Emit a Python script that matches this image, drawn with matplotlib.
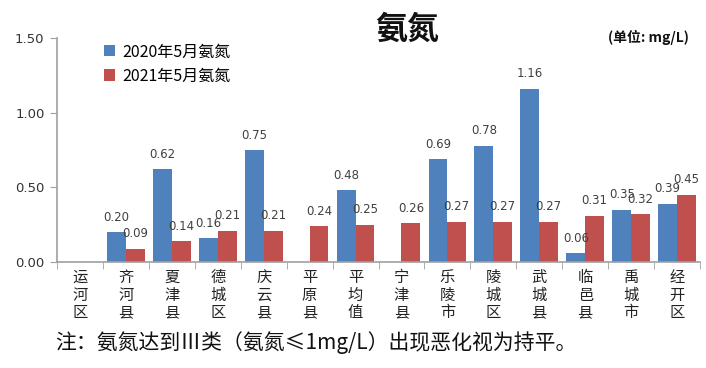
import matplotlib
matplotlib.use("Agg")
import matplotlib.pyplot as plt
import numpy as np

plt.rcParams['font.family'] = ['Noto Sans CJK SC', 'DejaVu Sans']

# data
districts = ['运河区', '齐河县', '夏津县', '德城区', '庆云县', '平原县', '平均值',
             '宁津县', '乐陵市', '陵城区', '武城县', '临邑县', '禹城市', '经开区']
nh3_2020 = [np.nan, 0.20, 0.62, 0.16, 0.75, np.nan, 0.48,
            np.nan, 0.69, 0.78, 1.16, 0.06, 0.35, 0.39]
nh3_2021 = [np.nan, 0.09, 0.14, 0.21, 0.21, 0.24, 0.25,
            0.26, 0.27, 0.27, 0.27, 0.31, 0.32, 0.45]
series_names = ['2020年5月氨氮', '2021年5月氨氮']
yticks = [0.0, 0.5, 1.0, 1.5]

blue = '#4F81BD'
red = '#C0504D'
label_col = '#404040'
axis_col = '#A0A0A0'

fig = plt.figure(figsize=(7.06, 3.68), dpi=100)
ax = fig.add_axes([57 / 706, (368 - 262) / 368, (700 - 57) / 706, (262 - 38) / 368])

x = np.arange(len(districts))
w = 0.41
ax.bar(x - w / 2, nh3_2020, w, color=blue, label=series_names[0])
ax.bar(x + w / 2, nh3_2021, w, color=red, label=series_names[1])

for xs, vals in ((x - w / 2, nh3_2020), (x + w / 2, nh3_2021)):
    for xi, v in zip(xs, vals):
        if np.isnan(v):
            continue
        ax.annotate(f'{v:.2f}', (xi, v), xytext=(0, 6), textcoords='offset points',
                    ha='center', va='bottom', fontsize=8.5, color=label_col,
                    family='DejaVu Sans')

ax.set_xlim(-0.5, len(districts) - 0.5)
ax.set_ylim(0, 1.5)
ax.set_yticks(yticks)
ax.set_yticklabels([f'{t:.2f}' for t in yticks], fontsize=9.5, color='#333333',
                   family='DejaVu Sans')
ax.set_xticks(x)
ax.set_xticklabels(['\n'.join(d) for d in districts], fontsize=11, color='#222222',
                   linespacing=1.05)
ax.set_xticks(np.arange(len(districts) + 1) - 0.5, minor=True)
ax.tick_params(axis='x', which='major', length=0, pad=5)
ax.tick_params(axis='x', which='minor', length=5, color=axis_col, direction='out')
ax.tick_params(axis='y', length=5, color=axis_col, pad=4)

for s in ('top', 'right'):
    ax.spines[s].set_visible(False)
for s in ('left', 'bottom'):
    ax.spines[s].set_color(axis_col)
    ax.spines[s].set_linewidth(1.2)

ax.legend(loc='upper left', bbox_to_anchor=(0.05, 1.04), frameon=False, fontsize=11.5,
          handlelength=0.7, handleheight=0.7, handletextpad=0.5, labelspacing=0.45)

fig.text(407 / 706, 1 - 30 / 368, '氨氮', ha='center', va='center', fontsize=23,
         fontweight='bold', color='#111111')
fig.text(648 / 706, 1 - 37 / 368, '(单位: mg/L)', ha='center', va='center',
         fontsize=10, fontweight='bold', color='#111111')
fig.text(55 / 706, 1 - 343 / 368, '注：氨氮达到Ⅲ类（氨氮≤1mg/L）出现恶化视为持平。',
         ha='left', va='center', fontsize=15, color='#111111')

fig.savefig('out.png', dpi=100)
